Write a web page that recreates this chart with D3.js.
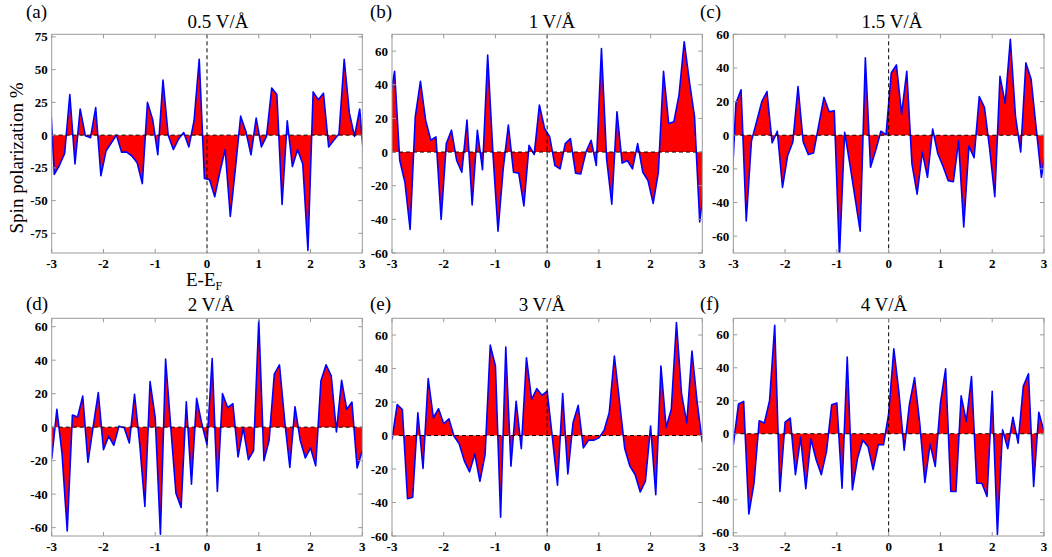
<!DOCTYPE html>
<html lang="en">
<head>
<meta charset="utf-8" />
<title>Spin polarization under electric field</title>
<script src="https://cdn.jsdelivr.net/npm/d3@7"></script>
<style>
  body{margin:0;background:#fff}
  svg{display:block;font-family:"Liberation Serif","Times New Roman",serif}
  .frame{fill:none;stroke:#9a9a9a;stroke-width:1}
  .tk{stroke:#9a9a9a;stroke-width:1}
  .tlab{font-size:13px;font-weight:bold;fill:#000}
  .zero{stroke:#000;stroke-width:1;stroke-dasharray:4,3;fill:none}
  .area{fill:#ff0000;stroke:none}
  .curve{fill:none;stroke:#0000ff;stroke-width:1.6;stroke-linejoin:round}
  .title,.letter{font-size:19px;fill:#000}
  .axlab{font-size:19px;fill:#000}
</style>
</head>
<body>
<svg id="chart" width="1052" height="557"></svg>
<script>
// energy grids (eV relative to E_F); panels a-c sit on half steps, d-f on whole steps
const energyHalf=[-3.05,-2.95,-2.85,-2.75,-2.65,-2.55,-2.45,-2.35,-2.25,-2.15,
  -2.05,-1.95,-1.85,-1.75,-1.65,-1.55,-1.45,-1.35,-1.25,-1.15,
  -1.05,-0.95,-0.85,-0.75,-0.65,-0.55,-0.45,-0.35,-0.25,-0.15,
  -0.05,0.05,0.15,0.25,0.35,0.45,0.55,0.65,0.75,0.85,
  0.95,1.05,1.15,1.25,1.35,1.45,1.55,1.65,1.75,1.85,
  1.95,2.05,2.15,2.25,2.35,2.45,2.55,2.65,2.75,2.85,
  2.95,3.05];
const energyWhole=[-3.0,-2.9,-2.8,-2.7,-2.6,-2.5,-2.4,-2.3,-2.2,-2.1,
  -2.0,-1.9,-1.8,-1.7,-1.6,-1.5,-1.4,-1.3,-1.2,-1.1,
  -1.0,-0.9,-0.8,-0.7,-0.6,-0.5,-0.4,-0.3,-0.2,-0.1,
  0.0,0.1,0.2,0.3,0.4,0.5,0.6,0.7,0.8,0.9,
  1.0,1.1,1.2,1.3,1.4,1.5,1.6,1.7,1.8,1.9,
  2.0,2.1,2.2,2.3,2.4,2.5,2.6,2.7,2.8,2.9,
  3.0];

// spin polarization (%) per field strength
const sp05=[45,-30,-23,-14,31,-22,20,-0.5,-2,21,
  -31,-12,-6,0,-13,-13,-16,-21,-37,25,
  12,-15,42,0,-11,-3,2,-9,11,58,
  -33,-34,-47,-28,-11,-62,-25,14.5,3,-15,
  13,-9,-1,36,31,-53,11,-24,-11,-22,
  -88,33,27,32,-9,-4,1,58,17,-1,
  20,-28];
const sp1=[30,48,-5,-18,-46,21,42,19,7,9,
  -40,5,13,-5,-12,19,-31.5,13,-10.5,57.6,
  0,-47,-10,16,-12,-12.5,-32,4,-1.5,28,
  14,9,-8,-10,5,8,-12.5,-13,0,7,
  -8,61.6,-4,-31,24,-6.6,-5,-10,5,-12,
  -17,-30.5,-12,48,17,18,34,65.6,42,21,
  -41.5,-16];
const sp15=[-45,19,27,-51,-3.5,8,20,26,-4.5,2.4,
  -31,-12,-4,29,-4,-11.5,-10.5,6,22.5,14,
  14.6,-72,1.8,-17,-37,-57,46,-19,-9,2.4,
  0.4,37,41.8,12.6,38,-17,-35,-10,-25,3.7,
  -11,-18.4,-27,-27.6,-3.5,-54.5,-6.5,-13.4,23,16.6,
  -8,-36.5,35,19,57,11,-10,43,33.5,4,
  -25,-5];
const sp2=[-19,10.6,-16,-62,7.2,6,18.6,-21,0,20.6,
  -13.4,-5.4,-10.8,0.6,-0.4,-9.4,19.6,-10,-47.4,27.2,
  5.6,-64,40.6,0,-39.4,-48,15.2,-34,17.2,2,
  -10.4,41,-38.4,20,11.6,14,-17.8,-0.4,-19.4,-14,
  64,-20,-7.8,31.6,37.2,4,-24,12.2,-7.8,-18.4,
  -12.4,-23,27.6,37.2,30.6,-2.8,28,10.6,15,-24.4,
  -14];
const sp3=[-2.4,18.5,15.5,-37.7,-36.9,13.6,-19.7,34,10.6,16,
  7,10,-0.4,-5,-15.3,-21.7,-11,-27.3,-11.4,54,
  41.5,-48.8,52.8,-18.3,20.5,-7.8,46.4,21.5,28,24,
  26.5,-1,-29.7,25,-23,7.6,18,-7.4,-2.8,-2.8,
  -1.4,3,13.6,47.4,20,-7.8,-18.3,-23.3,-33.7,-27.3,
  5.6,-35.3,41.5,5,15.5,67.4,24.5,7.6,50.4,20,
  -4];
const sp4=[-6.7,18,19.6,-48.7,-30,7.9,6.5,20,65.7,-35,
  7,9.5,-24.8,-2.2,-33.3,-3.2,-15.8,-24.8,-10.7,17.6,
  18.6,-33,46.5,-34,-14.7,-4,-7.7,-21.8,-6.7,-6.7,
  12,51.5,24.6,-10,17.6,34,6.5,-29.5,-6.3,-19.8,
  18.6,39.4,-35,-35,23,7.5,34.7,-30,-30,-38,
  25.7,-61,2.4,-9,10,-5.7,28.7,36.4,-32,13,
  1.4];

const fieldLabels=['0.5 V/Å','1 V/Å','1.5 V/Å','2 V/Å','3 V/Å','4 V/Å'];
const panelLetters=['(a)','(b)','(c)','(d)','(e)','(f)'];
const seriesList=[sp05,sp1,sp15,sp2,sp3,sp4];
const energyList=[energyHalf,energyHalf,energyHalf,energyWhole,energyWhole,energyWhole];
const yDomains=[[-90,77],[-60,70],[-70,60],[-65,65],[-60,70],[-62,70]];
const yTickSets=[[-75,-50,-25,0,25,50,75],
  [-60,-40,-20,0,20,40,60],[-60,-40,-20,0,20,40,60],
  [-60,-40,-20,0,20,40,60],[-60,-40,-20,0,20,40,60],[-60,-40,-20,0,20,40,60]];
const xTicks=[-3,-2,-1,0,1,2,3];

// layout of each frame (px)
const boxes=[
  {x0:51.7,x1:362.3,y0:34.3,y1:253,tx:218,ty:28,lx:26,ly:18},
  {x0:392,x1:702.3,y0:34.3,y1:253,tx:552,ty:28,lx:370,ly:18},
  {x0:733.3,x1:1044,y0:34.3,y1:253,tx:892,ty:28,lx:700,ly:18},
  {x0:51.7,x1:362.3,y0:318.3,y1:536,tx:211,ty:311,lx:26,ly:310},
  {x0:392,x1:702.3,y0:318.3,y1:536,tx:542,ty:311,lx:370,ly:310},
  {x0:733.3,x1:1044,y0:318.3,y1:536,tx:884,ty:311,lx:700,ly:310}
];

const svg=d3.select('#chart');
svg.append('rect').attr('width',1052).attr('height',557).attr('fill','#fff');
const defs=svg.append('defs');
const tickLen=4;

boxes.forEach((b,i)=>{
  const x=d3.scaleLinear().domain([-3,3]).range([b.x0,b.x1]);
  const y=d3.scaleLinear().domain(yDomains[i]).range([b.y1,b.y0]);
  const energy=energyList[i], vals=seriesList[i];
  const pts=energy.map((e,k)=>[e,vals[k]]);

  defs.append('clipPath').attr('id','clip'+i)
    .append('rect').attr('x',b.x0).attr('y',b.y0)
    .attr('width',b.x1-b.x0).attr('height',b.y1-b.y0);

  const g=svg.append('g');
  const plot=g.append('g').attr('clip-path',`url(#clip${i})`);

  const area=d3.area().x(d=>x(d[0])).y0(y(0)).y1(d=>y(d[1]));
  const line=d3.line().x(d=>x(d[0])).y(d=>y(d[1]));
  plot.append('path').attr('class','area').attr('d',area(pts));
  plot.append('path').attr('class','curve').attr('d',line(pts));

  // dashed zero guides
  plot.append('line').attr('class','zero')
    .attr('x1',b.x0).attr('x2',b.x1).attr('y1',y(0)).attr('y2',y(0));
  plot.append('line').attr('class','zero')
    .attr('x1',x(0)).attr('x2',x(0)).attr('y1',b.y0).attr('y2',b.y1);

  // inward ticks on all four sides
  xTicks.forEach(t=>{
    g.append('line').attr('class','tk').attr('x1',x(t)).attr('x2',x(t)).attr('y1',b.y1).attr('y2',b.y1-tickLen);
    g.append('line').attr('class','tk').attr('x1',x(t)).attr('x2',x(t)).attr('y1',b.y0).attr('y2',b.y0+tickLen);
    g.append('text').attr('class','tlab').attr('x',x(t)).attr('y',b.y1+15)
      .attr('text-anchor','middle').text(t);
  });
  yTickSets[i].forEach(t=>{
    g.append('line').attr('class','tk').attr('x1',b.x0).attr('x2',b.x0+tickLen).attr('y1',y(t)).attr('y2',y(t));
    g.append('line').attr('class','tk').attr('x1',b.x1).attr('x2',b.x1-tickLen).attr('y1',y(t)).attr('y2',y(t));
    g.append('text').attr('class','tlab').attr('x',b.x0-4).attr('y',y(t)).attr('dy','0.35em')
      .attr('text-anchor','end').text(t);
  });

  g.append('rect').attr('class','frame').attr('x',b.x0).attr('y',b.y0)
    .attr('width',b.x1-b.x0).attr('height',b.y1-b.y0);

  g.append('text').attr('class','title').attr('x',b.tx).attr('y',b.ty)
    .attr('text-anchor','middle').text(fieldLabels[i]);
  g.append('text').attr('class','letter').attr('x',b.lx).attr('y',b.ly).text(panelLetters[i]);
});

// axis titles (only on panel a)
svg.append('text').attr('class','axlab')
  .attr('transform','translate(23,158) rotate(-90)')
  .attr('text-anchor','middle').text('Spin polarization %');
const xl=svg.append('text').attr('class','axlab').attr('x',186).attr('y',286);
xl.append('tspan').text('E-E');
xl.append('tspan').attr('font-size','12px').attr('dy','4').text('F');
</script>
</body>
</html>
